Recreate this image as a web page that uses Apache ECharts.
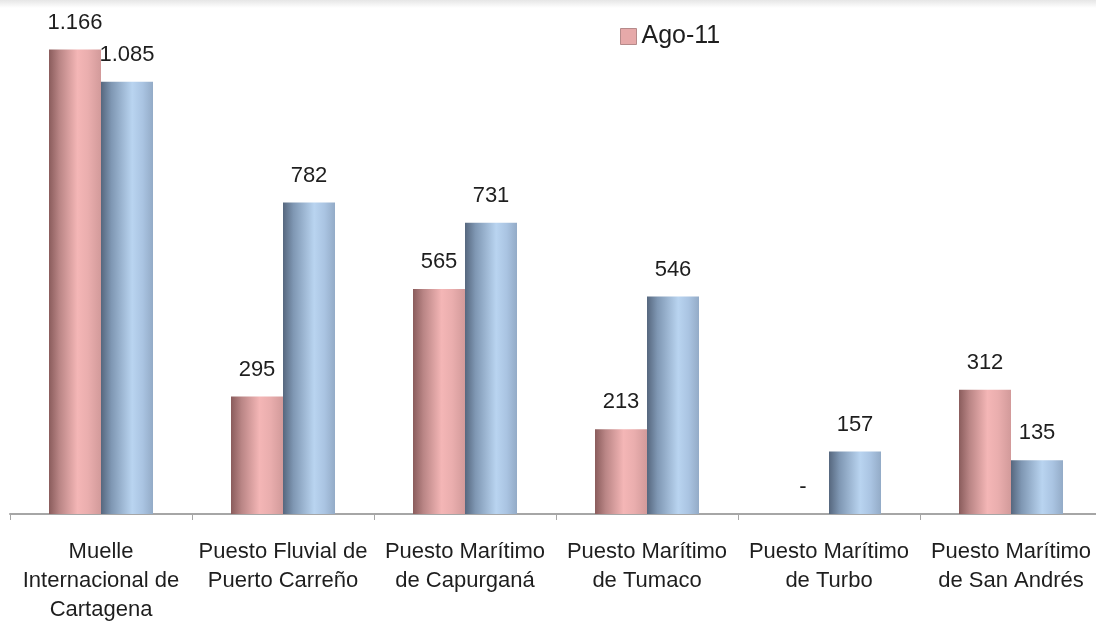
<!DOCTYPE html>
<html>
<head>
<meta charset="utf-8">
<script src="https://cdn.jsdelivr.net/npm/echarts@6/dist/echarts.min.js"></script>
<style>
html,body{margin:0;padding:0;background:#fff;overflow:hidden;width:1096px;height:625px;}
#chart{width:1102px;height:625px;}
</style>
</head>
<body>
<div id="chart"></div>
<script>
const categories = [
  'Muelle\nInternacional de\nCartagena',
  'Puesto Fluvial de\nPuerto Carreño',
  'Puesto Marítimo\nde Capurganá',
  'Puesto Marítimo\nde Tumaco',
  'Puesto Marítimo\nde Turbo',
  'Puesto Marítimo\nde San Andrés'
];
const seriesAgo11 = [1166, 295, 565, 213, 0, 312];
const seriesOther = [1085, 782, 731, 546, 157, 135];
const legendNames = ['Ago-11'];

const FONT = '"Liberation Sans", Arial, Helvetica, sans-serif';

function fmt(v) {
  if (v === 0) return '-';
  return String(v).replace(/\B(?=(\d{3})+(?!\d))/g, '.');
}

const redGrad = new echarts.graphic.LinearGradient(0, 0, 1, 0, [
  {offset: 0, color: '#8a5c5c'},
  {offset: 0.2, color: '#b98585'},
  {offset: 0.55, color: '#f4b6b6'},
  {offset: 0.75, color: '#eaaeae'},
  {offset: 1, color: '#d29a9a'}
]);
const blueGrad = new echarts.graphic.LinearGradient(0, 0, 1, 0, [
  {offset: 0, color: '#56677e'},
  {offset: 0.2, color: '#7f97b3'},
  {offset: 0.6, color: '#b9d4f0'},
  {offset: 0.8, color: '#aac4e2'},
  {offset: 1, color: '#93abc7'}
]);

const labelStyle = {
  show: true,
  position: 'top',
  distance: 16,
  fontFamily: FONT,
  fontSize: 22,
  color: '#1e1e1e',
  formatter: p => fmt(p.value)
};

const chart = echarts.init(document.getElementById('chart'), null, {renderer: 'canvas'});
chart.setOption({
  animation: false,
  backgroundColor: '#ffffff',
  graphic: [{
    type: 'rect',
    left: 0, top: 0,
    shape: {width: 1102, height: 8},
    style: {fill: new echarts.graphic.LinearGradient(0, 0, 0, 1, [
      {offset: 0, color: '#e6e6e6'}, {offset: 1, color: '#ffffff'}
    ])},
    silent: true
  }],
  legend: {
    data: [{name: legendNames[0], itemStyle: {color: '#e6a9a9', borderColor: '#b58a8a', borderWidth: 1}}],
    left: 615,
    top: 19,
    itemWidth: 16,
    itemHeight: 16,
    itemGap: 8,
    icon: 'rect',
    textStyle: {fontFamily: FONT, fontSize: 25, color: '#1e1e1e'}
  },
  grid: {left: 10, top: 16, right: 0, height: 498, containLabel: false},
  xAxis: {
    type: 'category',
    data: categories,
    boundaryGap: true,
    axisLine: {lineStyle: {color: '#a6a6a6', width: 2}},
    axisTick: {show: true, length: 6, lineStyle: {color: '#a6a6a6', width: 1}},
    axisLabel: {
      interval: 0,
      margin: 23,
      fontFamily: FONT,
      fontSize: 22,
      lineHeight: 29,
      color: '#1e1e1e',
      align: 'center'
    }
  },
  yAxis: {
    type: 'value',
    min: 0,
    max: 1250,
    show: false,
    splitLine: {show: false}
  },
  series: [
    {
      name: 'Ago-11',
      type: 'bar',
      data: seriesAgo11,
      barWidth: 52,
      barGap: '0%',
      itemStyle: {color: redGrad},
      label: labelStyle
    },
    {
      name: 'Otro',
      type: 'bar',
      data: seriesOther,
      barWidth: 52,
      barGap: '0%',
      itemStyle: {color: blueGrad},
      label: labelStyle
    }
  ]
});
</script>
</body>
</html>
